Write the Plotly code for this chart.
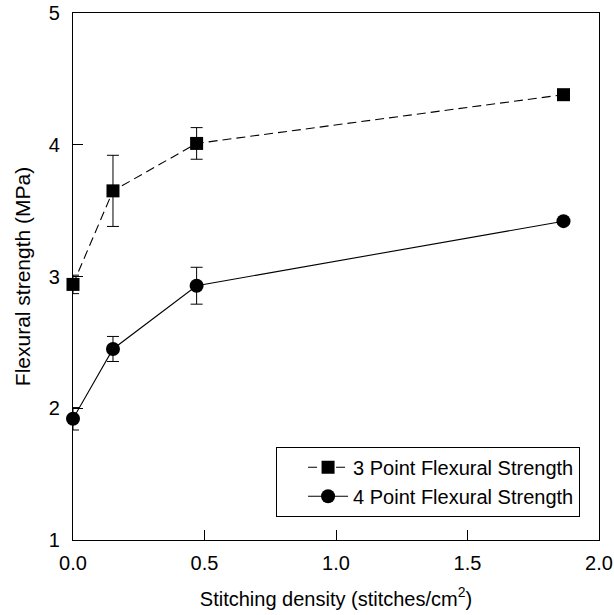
import plotly.graph_objects as go

density = [0.0, 0.152, 0.47, 1.865]
three_pt = [2.94, 3.65, 4.01, 4.38]
three_err = [0.07, 0.27, 0.12, 0.0]
four_pt = [1.92, 2.45, 2.93, 3.42]
four_err = [0.085, 0.095, 0.14, 0.0]

x_ticks = [0.0, 0.5, 1.0, 1.5, 2.0]
x_ticklabels = ["0.0", "0.5", "1.0", "1.5", "2.0"]
y_ticks = [1, 2, 3, 4, 5]
y_ticklabels = ["1", "2", "3", "4", "5"]

FONT = "Liberation Sans, Arial, sans-serif"

fig = go.Figure()
fig.add_trace(go.Scatter(
    x=density, y=three_pt, name="3 Point Flexural Strength",
    mode="lines+markers",
    line=dict(color="black", width=1.1, dash="9px,5px"),
    marker=dict(symbol="square", size=13, color="black"),
    error_y=dict(type="data", array=three_err, color="black", thickness=1, width=6),
    cliponaxis=False,
))
fig.add_trace(go.Scatter(
    x=density, y=four_pt, name="4 Point Flexural Strength",
    mode="lines+markers",
    line=dict(color="black", width=1.1),
    marker=dict(symbol="circle", size=14, color="black"),
    error_y=dict(type="data", array=four_err, color="black", thickness=1, width=6),
    cliponaxis=False,
))

fig.update_layout(
    width=614, height=615,
    margin=dict(l=73, r=15, t=13, b=75),
    paper_bgcolor="white", plot_bgcolor="white",
    font=dict(family=FONT, size=20, color="black"),
    showlegend=True,
    legend=dict(
        x=0.964, xanchor="right", y=0.044, yanchor="bottom",
        bordercolor="black", borderwidth=1, bgcolor="white",
        font=dict(size=20, family=FONT),
        tracegroupgap=0, itemwidth=40, indentation=26,
    ),
    xaxis=dict(
        range=[0, 2.0], tickvals=x_ticks, ticktext=x_ticklabels,
        ticks="inside", ticklen=10, tickcolor="black",
        showline=True, linecolor="black", linewidth=1.2, mirror=True,
        showgrid=False, zeroline=False, automargin=False,
        ticklabeloverflow="allow",
        tickfont=dict(size=20), ticklabelstandoff=5,
        title=dict(text="Stitching density (stitches/cm<sup>2</sup>)", font=dict(size=20), standoff=18),
    ),
    yaxis=dict(
        range=[1, 5], tickvals=y_ticks, ticktext=y_ticklabels,
        ticks="inside", ticklen=10, tickcolor="black",
        showline=True, linecolor="black", linewidth=1.2, mirror=True,
        showgrid=False, zeroline=False, automargin=False,
        ticklabeloverflow="allow",
        tickfont=dict(size=20), ticklabelstandoff=8,
        title=dict(text="Flexural strength (MPa)", font=dict(size=21), standoff=12),
    ),
)

# remove the browser's default 8px page margin so the figure fills the window
fig.write_html("out.html", config={"displayModeBar": False},
               post_script="document.body.style.margin='0';")
